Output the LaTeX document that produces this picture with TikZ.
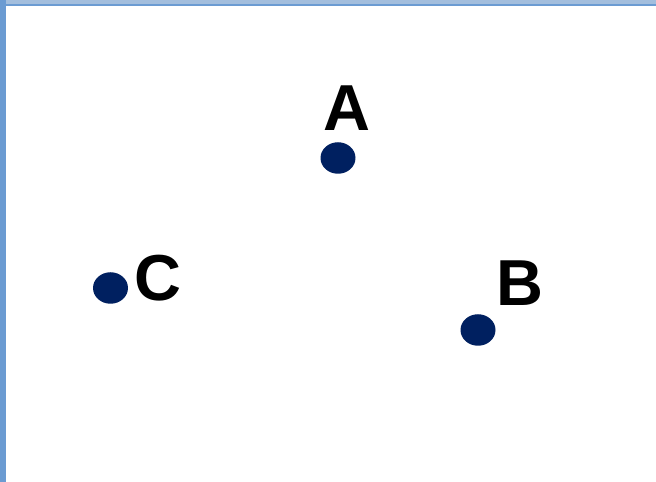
\documentclass[tikz,border=0pt]{standalone}
\usepackage{fontspec}
\newfontfamily\lblfont{Liberation Sans}
\usetikzlibrary{shapes.geometric}
\definecolor{dotcolor}{HTML}{002060}
\definecolor{framecolor}{HTML}{6B9BD2}
\definecolor{barcolor}{HTML}{A3BEDD}

\begin{document}
\begin{tikzpicture}[
    x=0.02cm, y=-0.02cm,
    dot/.style={ellipse, fill=dotcolor, minimum width=0.7cm, minimum height=0.63cm, inner sep=0pt},
    lbl/.style={font=\lblfont\bfseries\fontsize{37}{44}\selectfont, inner sep=0pt, text=black},
  ]
    % window frame
    \useasboundingbox (0,0) rectangle (656,482);
    \fill[white] (0,0) rectangle (656,482);
    \fill[barcolor] (0,0) rectangle (656,6);
    \fill[framecolor] (0,4) rectangle (656,6.5);
    \fill[framecolor] (0,0) rectangle (5.5,482);

    \node[dot] (dotA) at (338,158) {};
    \node[dot] (dotB) at (478,330) {};
    \node[dot] (dotC) at (110.5,288) {};

    \node[lbl] (labA) at (346.5,108) {A};
    \node[lbl] (labB) at (519.5,283) {B};
    \node[lbl] (labC) at (157.5,278) {C};
  \end{tikzpicture}
\end{document}
